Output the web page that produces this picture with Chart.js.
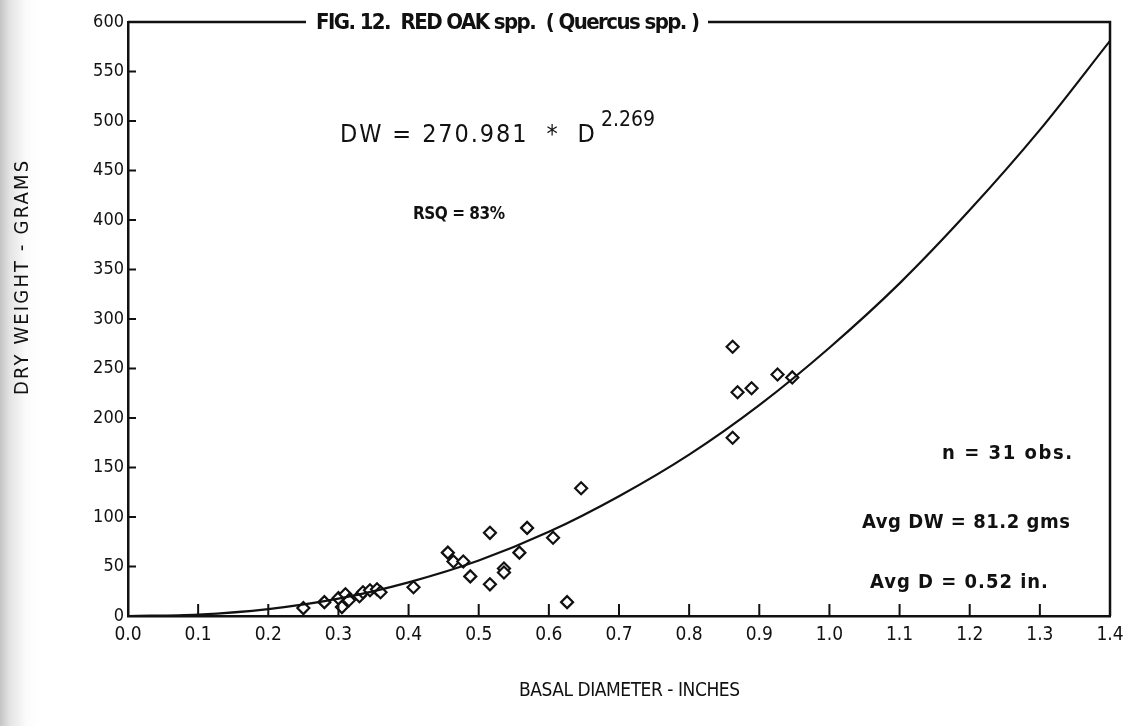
<!DOCTYPE html>
<html>
<head>
<meta charset="utf-8">
<script src="https://cdn.jsdelivr.net/npm/chart.js@4"></script>
<style>
  html, body { margin: 0; padding: 0; overflow: hidden; }
  body { width: 1125px; height: 726px; background: linear-gradient(to right, #c4c4c4 0px, #e4e4e4 10px, #fbfbfb 26px, #ffffff 40px); }
  #wrap { width: 1125px; height: 726px; }
</style>
</head>
<body>
<div id="wrap"><canvas id="fig12"></canvas></div>
<script>
// observed basal diameter (in) and dry weight (g), 31 obs
const diam = [0.25, 0.28, 0.30, 0.305, 0.31, 0.315, 0.33, 0.335, 0.345, 0.355, 0.36,
	      0.407, 0.456, 0.464, 0.478, 0.488, 0.516, 0.516, 0.536, 0.536, 0.558,
	      0.569, 0.606, 0.626, 0.646, 0.862, 0.862, 0.869, 0.889, 0.926, 0.947];
const dryWt = [8, 14, 18, 9, 22, 16, 20, 24, 26, 27, 24,
	       29, 64, 55, 55, 40, 84, 32, 48, 44, 64,
	       89, 79, 14, 129, 272, 180, 226, 230, 244, 241];

// fitted curve
const curveD = [0, 0.1, 0.2, 0.3, 0.4, 0.5, 0.6, 0.7, 0.8, 0.9, 1.0, 1.1, 1.2, 1.3, 1.4];
const curveDW = [0, 1.5, 7, 17.5, 34, 56, 85, 121, 163, 213, 271, 336, 410, 491, 581];

const xTickLabels = ['0.0', '0.1', '0.2', '0.3', '0.4', '0.5', '0.6', '0.7',
		     '0.8', '0.9', '1.0', '1.1', '1.2', '1.3', '1.4'];
const yTickLabels = ['0', '50', '100', '150', '200', '250', '300',
		     '350', '400', '450', '500', '550', '600'];

const NARROW = "'Liberation Sans Narrow', 'DejaVu Sans Condensed', Arial, sans-serif";

function pts(xs, ys)
{
    return xs.map(function(x, i) { return {x: x, y: ys[i]}; });
}

// draw text from a left edge, spread out with letter spacing to a given width
function spreadText(ctx, text, left, y, width)
{
    ctx.save();
    ctx.letterSpacing = '0px';
    var w = ctx.measureText(text).width;
    var gap = (width - w) / Math.max(text.length - 1, 1);
    ctx.letterSpacing = gap.toFixed(2) + 'px';
    ctx.textAlign = 'left';
    ctx.fillText(text, left, y);
    ctx.restore();
}

const framePlugin = {
    id: 'frame',
    afterDraw: function(chart) {
	const ctx = chart.ctx;
	const a = chart.chartArea;
	const xs = chart.scales.x;
	const ys = chart.scales.y;

	ctx.save();
	ctx.strokeStyle = '#111';
	ctx.lineWidth = 2.5;

	// top and right edges of the box
	ctx.beginPath();
	ctx.moveTo(a.left, a.top);
	ctx.lineTo(a.right, a.top);
	ctx.lineTo(a.right, a.bottom);
	ctx.stroke();

	// inward tick marks
	ctx.lineWidth = 2;
	ctx.beginPath();
	for (let i = 1; i < curveD.length - 1; i++) {
	    const px = xs.getPixelForValue(curveD[i]);
	    ctx.moveTo(px, a.bottom);
	    ctx.lineTo(px, a.bottom - 12);
	}
	for (let i = 1; i < yTickLabels.length - 1; i++) {
	    const py = ys.getPixelForValue(Number(yTickLabels[i]));
	    ctx.moveTo(a.left, py);
	    ctx.lineTo(a.left + 8, py);
	}
	ctx.stroke();

	ctx.textBaseline = 'middle';

	// title sitting on the top line
	ctx.fillStyle = '#fff';
	ctx.fillRect(306, a.top - 12, 402, 24);
	ctx.fillStyle = '#111';
	ctx.font = 'bold 22px ' + NARROW;
	spreadText(ctx, 'FIG. 12.  RED OAK spp.  ( Quercus spp. )', 316, a.top + 1, 384);

	// equation and stats
	ctx.font = '25px ' + NARROW;
	spreadText(ctx, 'DW = 270.981  *  D', 340, 135, 255);
	ctx.font = '21px ' + NARROW;
	spreadText(ctx, '2.269', 601, 121, 54);
	ctx.font = 'bold 17px ' + NARROW;
	spreadText(ctx, 'RSQ = 83%', 413, 215, 92);
	ctx.font = 'bold 20px ' + NARROW;
	spreadText(ctx, 'n = 31 obs.', 942, 454, 130);
	spreadText(ctx, 'Avg DW = 81.2 gms', 862, 523, 208);
	spreadText(ctx, 'Avg D = 0.52 in.', 870, 583, 178);

	// axis titles
	ctx.font = '19px ' + NARROW;
	spreadText(ctx, 'BASAL DIAMETER - INCHES', 519, 691, 221);
	ctx.translate(23, 278);
	ctx.rotate(-Math.PI / 2);
	ctx.font = '20px ' + NARROW;
	spreadText(ctx, 'DRY WEIGHT - GRAMS', -117, 0, 234);
	ctx.restore();
    }
};

new Chart(document.getElementById('fig12'), {
    type: 'scatter',
    data: {
	datasets: [{
	    type: 'line',
	    label: 'fit',
	    data: pts(curveD, curveDW),
	    borderColor: '#111',
	    borderWidth: 2.2,
	    pointRadius: 0,
	    cubicInterpolationMode: 'monotone',
	    fill: false
	}, {
	    label: 'obs',
	    data: pts(diam, dryWt),
	    pointStyle: 'rectRot',
	    pointRadius: 6,
	    pointBorderWidth: 2.2,
	    pointBorderColor: '#111',
	    pointBackgroundColor: '#fff',
	    showLine: false
	}]
    },
    options: {
	responsive: true,
	maintainAspectRatio: false,
	animation: false,
	devicePixelRatio: 1,
	layout: {
	    padding: {left: 0, top: 22, right: 15, bottom: 0}
	},
	plugins: {
	    legend: {display: false},
	    tooltip: {enabled: false}
	},
	scales: {
	    x: {
		type: 'linear',
		min: 0,
		max: 1.4,
		afterFit: function(s) {
		    s.height = 110;
		    s.paddingLeft = 0;
		    s.paddingRight = 0;
		},
		border: {display: true, color: '#111', width: 2.5},
		grid: {display: false, drawTicks: false},
		ticks: {
		    stepSize: 0.1,
		    padding: 8,
		    color: '#111',
		    font: {family: NARROW, size: 19},
		    callback: function(v, i) { return xTickLabels[i]; }
		}
	    },
	    y: {
		type: 'linear',
		min: 0,
		max: 600,
		afterFit: function(s) {
		    s.width = 128;
		    s.paddingTop = 0;
		    s.paddingBottom = 0;
		},
		border: {display: true, color: '#111', width: 2.5},
		grid: {display: false, drawTicks: false},
		ticks: {
		    stepSize: 50,
		    padding: 4,
		    color: '#111',
		    font: {family: NARROW, size: 18},
		    callback: function(v, i) { return yTickLabels[i]; }
		}
	    }
	}
    },
    plugins: [framePlugin]
});
</script>
</body>
</html>
